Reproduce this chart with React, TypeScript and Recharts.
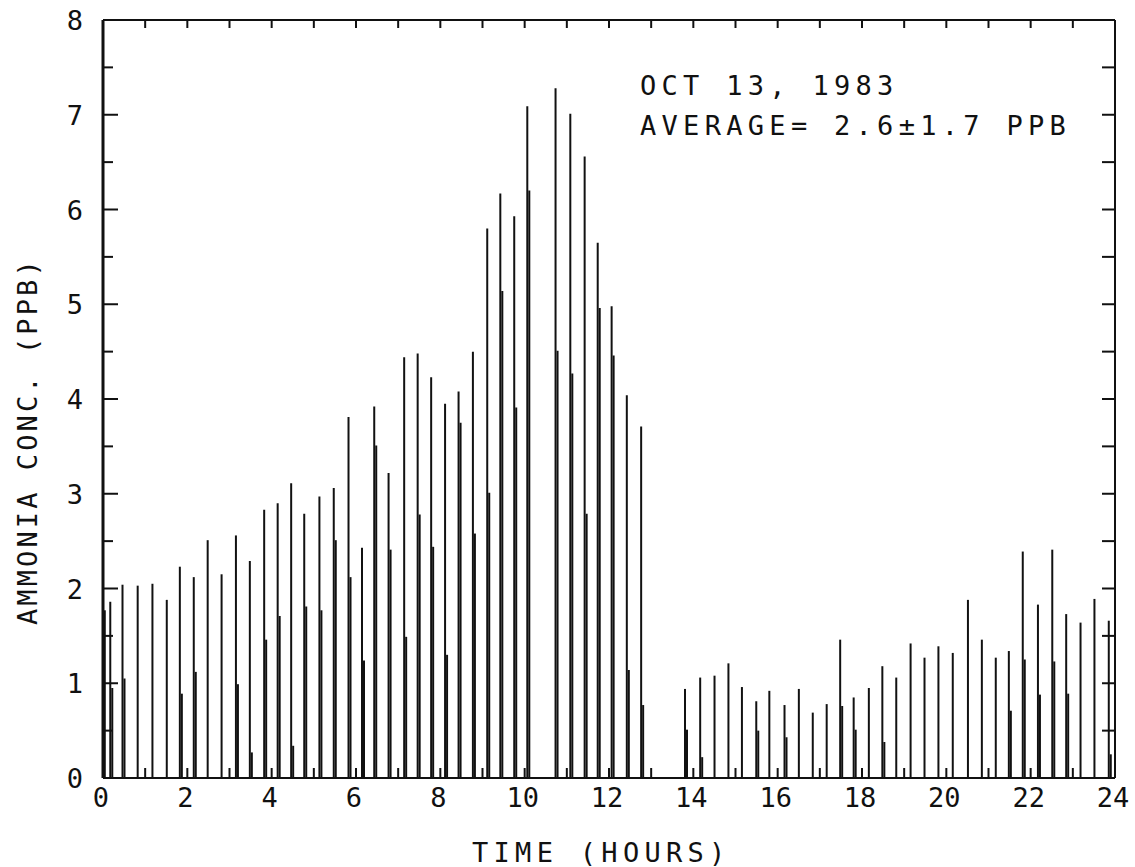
import { BarChart, Bar, XAxis, YAxis } from "recharts";

// sample times (hours), roughly every 20 minutes
const HOURS = [
  0.06, 0.19, 0.48, 0.84, 1.19, 1.53, 1.84, 2.17, 2.5, 2.83, 3.17, 3.5, 3.84, 4.16,
  4.48, 4.79, 5.15, 5.49, 5.84, 6.16, 6.45, 6.79, 7.16, 7.48, 7.8, 8.13, 8.45, 8.79,
  9.13, 9.44, 9.77, 10.08, 10.75, 11.1, 11.44, 11.75, 12.08, 12.44, 12.78,
  13.82, 14.18, 14.52, 14.85, 15.17, 15.51, 15.82, 16.18, 16.52, 16.85, 17.18, 17.5,
  17.82, 18.18, 18.5, 18.83, 19.17, 19.5, 19.83, 20.17, 20.53, 20.86, 21.19, 21.5,
  21.83, 22.19, 22.53, 22.86, 23.2, 23.53, 23.87,
];

// ammonia concentration, ppb (tall line of each sample)
const CONC = [
  1.77, 1.86, 2.04, 2.03, 2.05, 1.88, 2.23, 2.12, 2.51, 2.15, 2.56, 2.29, 2.83, 2.9,
  3.11, 2.79, 2.97, 3.06, 3.81, 2.43, 3.92, 3.22, 4.44, 4.48, 4.23, 3.95, 4.08, 4.5,
  5.8, 6.17, 5.93, 7.09, 7.28, 7.01, 6.56, 5.65, 4.98, 4.04, 3.71,
  0.94, 1.06, 1.08, 1.21, 0.96, 0.81, 0.92, 0.77, 0.94, 0.69, 0.78, 1.46,
  0.85, 0.95, 1.18, 1.06, 1.42, 1.27, 1.39, 1.32, 1.88, 1.46, 1.27, 1.34,
  2.39, 1.83, 2.41, 1.73, 1.64, 1.89, 1.66,
];

// shorter companion line drawn beside each sample (null = none)
const LOWER = [
  null, 0.95, 1.05, null, null, null, 0.89, 1.12, null, null, 0.99, 0.27, 1.46, 1.71,
  0.34, 1.81, 1.77, 2.51, 2.12, 1.24, 3.51, 2.41, 1.49, 2.78, 2.44, 1.3, 3.75, 2.58,
  3.01, 5.14, 3.91, 6.2, 4.51, 4.27, 2.79, 4.96, 4.46, 1.14, 0.77,
  0.51, 0.22, null, null, null, 0.5, null, 0.43, null, null, null, 0.76,
  0.51, null, 0.38, null, null, null, null, null, null, null, null, 0.71,
  1.25, 0.88, 1.23, 0.89, null, null, 0.25,
];

const X_TICKS = [0, 1, 2, 3, 4, 5, 6, 7, 8, 9, 10, 11, 12, 13, 14, 15, 16, 17, 18, 19, 20, 21, 22, 23, 24];
const X_LABELS = [0, 2, 4, 6, 8, 10, 12, 14, 16, 18, 20, 22, 24];
const Y_TICKS = [0, 0.5, 1, 1.5, 2, 2.5, 3, 3.5, 4, 4.5, 5, 5.5, 6, 6.5, 7, 7.5, 8];
const Y_LABELS = [0, 1, 2, 3, 4, 5, 6, 7, 8];

const INK = "#111";
const FONT = "'DejaVu Sans Mono', monospace";

const rows = HOURS.map((t, i) => ({ t, conc: CONC[i], lower: LOWER[i] }));

function BottomTick(p: any) {
  const v = p.payload.value;
  return (
    <g>
      <line x1={p.x} x2={p.x} y1={p.y} y2={p.y - 10} stroke={INK} strokeWidth={2} />
      {X_LABELS.includes(v) && (
        <text x={p.x - 2} y={p.y + 29} textAnchor="middle" fontFamily={FONT} fontSize={27} fill={INK}>
          {v}
        </text>
      )}
    </g>
  );
}

function TopTick(p: any) {
  return <line x1={p.x} x2={p.x} y1={p.y} y2={p.y + 8} stroke={INK} strokeWidth={2} />;
}

function LeftTick(p: any) {
  const v = p.payload.value;
  const major = Y_LABELS.includes(v);
  return (
    <g>
      <line x1={p.x} x2={p.x + (major ? 15 : 10)} y1={p.y} y2={p.y} stroke={INK} strokeWidth={2} />
      {major && (
        <text x={p.x - 20} y={p.y + 10} textAnchor="end" fontFamily={FONT} fontSize={27} fill={INK}>
          {v}
        </text>
      )}
    </g>
  );
}

function RightTick(p: any) {
  return <line x1={p.x} x2={p.x - 13} y1={p.y} y2={p.y} stroke={INK} strokeWidth={2} />;
}

export default function App() {
  return (
    <div style={{ position: "absolute", left: 0, top: 0, width: 1135, height: 867, background: "#fff" }}>
      <BarChart
        width={1135}
        height={867}
        data={rows}
        margin={{ top: 19, right: 19, bottom: 0, left: 0 }}
        barGap={0}
      >
        <XAxis
          xAxisId="b"
          type="number"
          dataKey="t"
          domain={[0, 24]}
          allowDataOverflow
          ticks={X_TICKS}
          interval={0}
          height={89}
          tickSize={0}
          tickMargin={0}
          tickLine={false}
          axisLine={{ stroke: INK, strokeWidth: 2 }}
          tick={(p: any) => <BottomTick {...p} />}
        />
        <XAxis
          xAxisId="t"
          orientation="top"
          type="number"
          dataKey="t"
          domain={[0, 24]}
          allowDataOverflow
          ticks={X_TICKS}
          interval={0}
          height={1}
          tickSize={0}
          tickMargin={0}
          tickLine={false}
          axisLine={{ stroke: INK, strokeWidth: 2 }}
          tick={(p: any) => <TopTick {...p} />}
        />
        <YAxis
          yAxisId="l"
          domain={[0, 8]}
          allowDataOverflow
          ticks={Y_TICKS}
          interval={0}
          width={103}
          tickSize={0}
          tickMargin={0}
          tickLine={false}
          axisLine={{ stroke: INK, strokeWidth: 3 }}
          tick={(p: any) => <LeftTick {...p} />}
        />
        <YAxis
          yAxisId="r"
          orientation="right"
          domain={[0, 8]}
          allowDataOverflow
          ticks={Y_TICKS}
          interval={0}
          width={1}
          tickSize={0}
          tickMargin={0}
          tickLine={false}
          axisLine={{ stroke: INK, strokeWidth: 2 }}
          tick={(p: any) => <RightTick {...p} />}
        />
        <Bar xAxisId="b" yAxisId="l" dataKey="conc" fill={INK} barSize={2} isAnimationActive={false} />
        <Bar xAxisId="b" yAxisId="l" dataKey="lower" fill={INK} barSize={2} isAnimationActive={false} />
      </BarChart>
      <svg
        width={1135}
        height={867}
        style={{ position: "absolute", left: 0, top: 0, pointerEvents: "none" }}
        fontFamily={FONT}
        fill={INK}
      >
        <text x={640} y={95} fontSize={27} letterSpacing={5.3}>OCT 13, 1983</text>
        <text x={640} y={135} fontSize={27} letterSpacing={5.3}>AVERAGE= 2.6±1.7 PPB</text>
        <text x={472} y={862} fontSize={27} letterSpacing={5.3}>TIME  (HOURS)</text>
        <text transform="translate(37,625) rotate(-90)" fontSize={27} letterSpacing={3.1}>
          AMMONIA CONC.  (PPB)
        </text>
      </svg>
    </div>
  );
}
